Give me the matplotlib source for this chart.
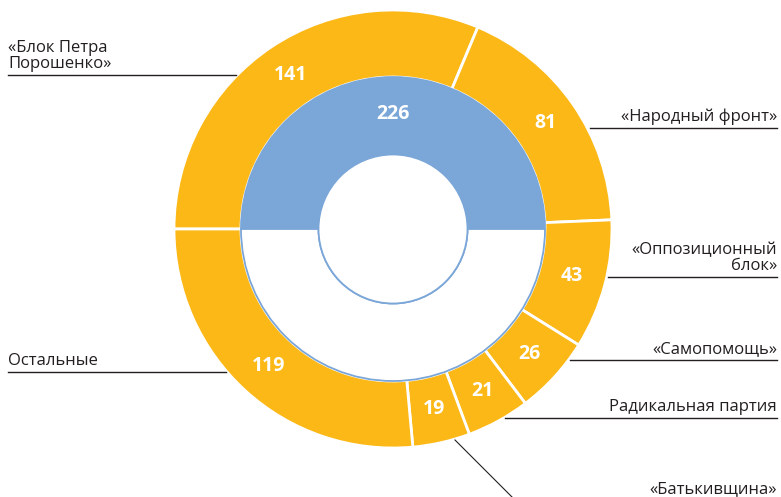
import matplotlib.pyplot as plt

parties = ["«Блок Петра\nПорошенко»", "«Народный фронт»", "«Оппозиционный\nблок»",
           "«Самопомощь»", "Радикальная партия", "«Батькивщина»", "Остальные"]
seats = [141, 81, 43, 26, 21, 19, 119]
coalition = [226, 226]

yellow = "#FBB817"
blue = "#7BA6D8"
dark = "#231F20"

plt.rcParams["font.family"] = ["Open Sans", "DejaVu Sans"]

fig = plt.figure(figsize=(7.81, 4.97), dpi=100)
ax = fig.add_axes([0, 0, 1, 1])

cx, cy = 393, 268
r_out, r_mid, r_in = 219, 152, 74.5
total = sum(seats)

# outer ring: seats per party
ax.pie(seats, radius=r_out, center=(cx, cy), startangle=180, counterclock=False,
       colors=[yellow] * len(seats),
       wedgeprops=dict(width=r_out - r_mid, edgecolor="white", linewidth=2),
       autopct=lambda p: "%d" % round(p * total / 100), pctdistance=0.845,
       textprops=dict(color="white", fontsize=14, fontweight="bold"), frame=True)

# inner ring: 226 seats needed for a majority
ax.pie(coalition, radius=r_mid, center=(cx, cy), startangle=180, counterclock=False,
       colors=[blue, "white"],
       wedgeprops=dict(width=r_mid - r_in, edgecolor=blue, linewidth=1.3),
       frame=True)
ax.text(cx, cy + (r_mid + r_in) / 2 + 2, str(coalition[0]), color="white", fontsize=14,
        fontweight="bold", ha="center", va="center")
ax.add_patch(plt.Circle((cx, cy), r_in, facecolor="white", edgecolor=blue, linewidth=1.3))

ax.set_xlim(0, 781)
ax.set_ylim(0, 497)
ax.set_aspect("equal")
ax.axis("off")

# callout lines: index -> (line x0, line y, line x1)
left_labels = {0: (8, 422, 236), 6: (8, 125, 226)}
right_labels = {1: (590, 369), 2: (608, 220), 3: (570, 137), 4: (505, 79)}

for i, (x0, y, x1) in left_labels.items():
    ax.plot([x0, x1], [y, y], color=dark, lw=1)
    ax.text(x0, y + 3, parties[i], ha="left", va="bottom", fontsize=12,
            color=dark, linespacing=1.0)

for i, (x0, y) in right_labels.items():
    ax.plot([x0, 777], [y, y], color=dark, lw=1)
    ax.text(777, y + 3, parties[i], ha="right", va="bottom", fontsize=12,
            color=dark, linespacing=1.0)

ax.plot([455, 514], [57, -2], color=dark, lw=0.8)
ax.text(777, 4, parties[5], ha="right", va="baseline", fontsize=12, color=dark)

fig.savefig("out.png", dpi=100)
